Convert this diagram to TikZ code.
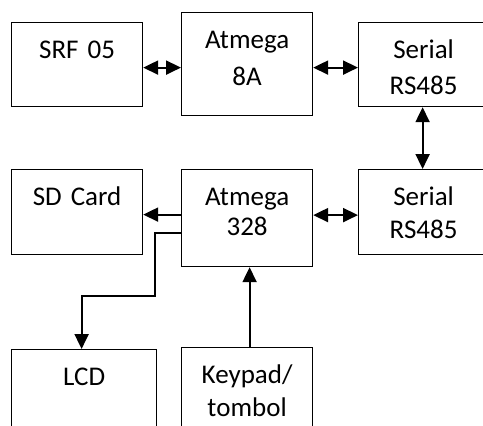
\documentclass[tikz,border=0pt]{standalone}
\usepackage{fontspec}
\setmainfont{Carlito}
\usetikzlibrary{arrows.meta,positioning}

\begin{document}
\begin{tikzpicture}[x=1pt,y=-1pt,
    blk/.style={draw, line width=1.2pt, inner sep=0pt, anchor=north west,
      align=center, text width=131pt, text height=36pt,
      font=\fontsize{27}{34}\selectfont},
    link/.style={line width=2pt, -{Triangle[length=15pt,width=14pt]}},
    both/.style={line width=2pt, {Triangle[length=15pt,width=14pt]}-{Triangle[length=15pt,width=14pt]}}]
			\useasboundingbox (0,0) rectangle (483,426);
			\clip (0,0) rectangle (483,426);

			% Top row
			\node[blk, text depth=48pt] (srf) at (11,22) {SRF 05};
			\node[blk, text depth=67pt] (atmA) at (181,12) {Atmega\\[3pt]8A};
			\node[blk, text width=130pt, text depth=48pt] (rsA) at (358,22) {Serial\\[2pt]RS485};

			% Middle row
			\node[blk, text depth=49pt] (sd) at (11,169) {SD Card};
			\node[blk, text depth=61pt] (atmB) at (181,169) {Atmega\\[-4pt]328};
			\node[blk, text width=130pt, text depth=49pt] (rsB) at (358,169) {Serial\\[-1pt]RS485};

			% Bottom row
			\node[blk, text width=145pt, text depth=80pt] (lcd) at (11,349) {LCD};
			\node[blk, text depth=80pt] (kpd) at (181,347) {Keypad/\\[-1pt]tombol};

			% Links
			\draw[both] ([yshift=-3pt]srf.east) -- ([yshift=-3pt]srf.east -| atmA.west);
			\draw[both] ([yshift=-3pt]srf.east -| atmA.east) -- ([yshift=-3pt]srf.east -| rsA.west);
			\draw[both] ([xshift=-1pt]rsA.south) -- ([xshift=-1pt]rsB.north);
			\draw[link] ([yshift=3.5pt]atmB.west) -- ([yshift=3.5pt]atmB.west -| sd.east);
			\draw[both] ([yshift=3pt]atmB.east) -- ([yshift=3pt]atmB.east -| rsB.west);
			\draw[link] ([yshift=-14.5pt]atmB.west) -- ++(-26,0) |- ([xshift=-2.5pt]lcd.north |- 0,296) -- ([xshift=-2.5pt]lcd.north);
			\draw[link] ([xshift=2.5pt]kpd.north) -- ([xshift=2.5pt]kpd.north |- atmB.south);
\end{tikzpicture}
\end{document}
